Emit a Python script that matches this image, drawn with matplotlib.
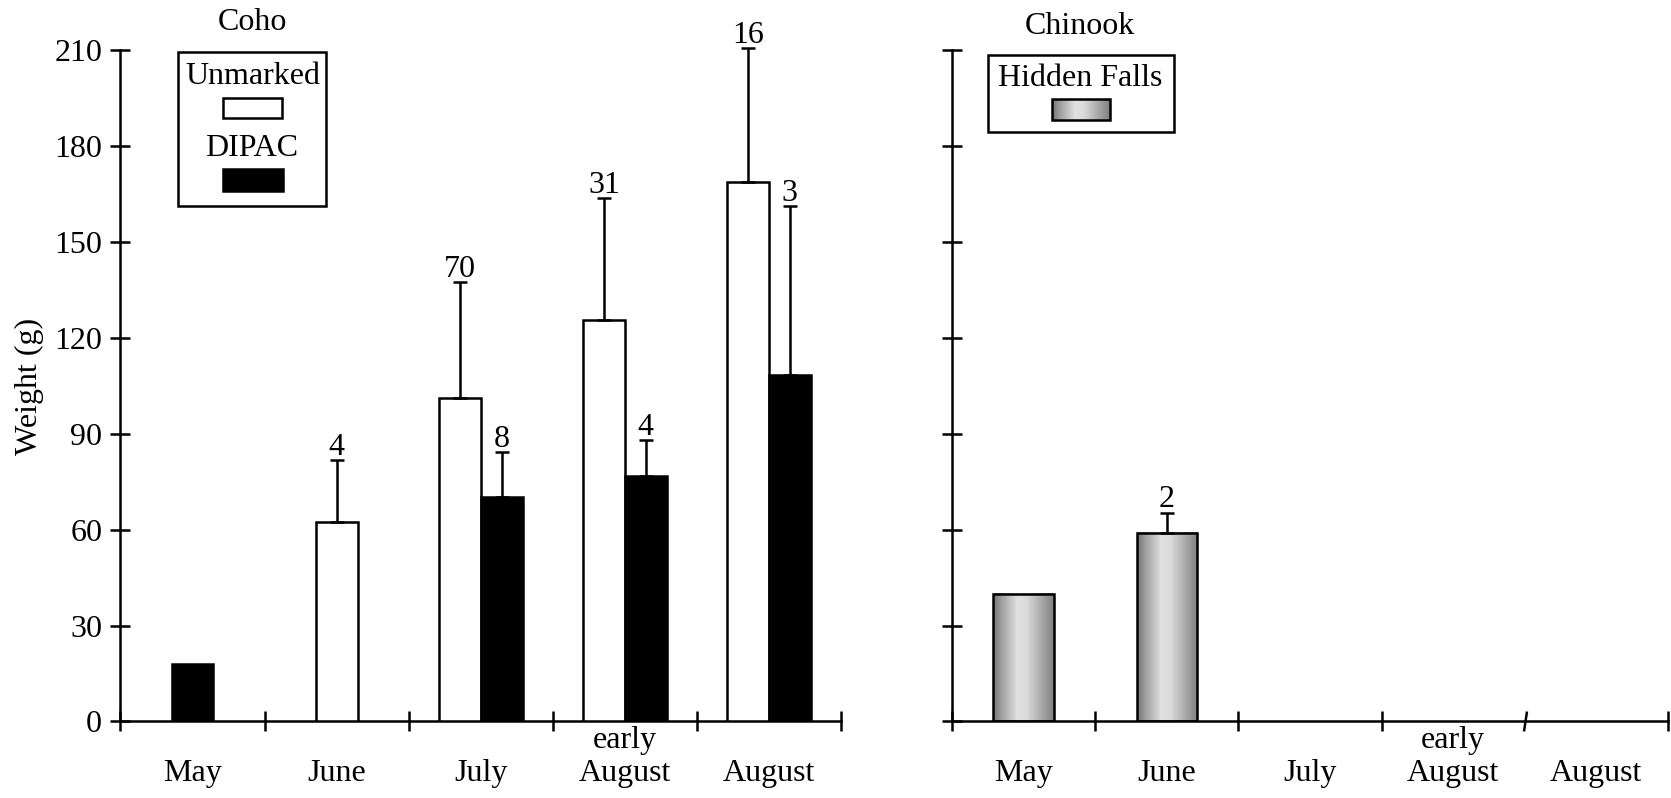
import numpy as np
import matplotlib
matplotlib.use('Agg')
import matplotlib.pyplot as plt
from matplotlib.patches import Rectangle

plt.rcParams['font.family'] = ['Liberation Serif', 'DejaVu Serif']
plt.rcParams['font.size'] = 23

# ---------------- data ----------------
months = ['May', 'June', 'July', 'early\nAugust', 'August']
coho_unmarked_mean = [np.nan, 62.5, 101.3, 125.5, 168.8]
coho_unmarked_sd = [np.nan, 19.3, 36.2, 38.1, 41.9]
coho_unmarked_n = [None, 4, 70, 31, 16]
coho_dipac_mean = [18.0, np.nan, 70.1, 76.9, 108.3]
coho_dipac_sd = [np.nan, np.nan, 14.2, 11.1, 52.9]
coho_dipac_n = [None, None, 8, 4, 3]
chinook_mean = [39.9, 58.8, np.nan, np.nan, np.nan]
chinook_sd = [np.nan, 6.5, np.nan, np.nan, np.nan]
chinook_n = [None, 2, None, None, None]
yticks = [0, 30, 60, 90, 120, 150, 180, 210]

# ---------------- style ----------------
W, H = 1671, 798
FS = 23
LW = 1.8
TICKLEN = 14.4
grad_stops_pos = [0.0, 0.12, 0.40, 0.55, 0.85, 1.0]
grad_stops_val = [0.45, 0.60, 0.88, 0.86, 0.62, 0.50]
grad = np.interp(np.linspace(0, 1, 256), grad_stops_pos, grad_stops_val)[None, :]

fig = plt.figure(figsize=(W / 100, H / 100), dpi=100)
ax1 = fig.add_axes([0.0721, 0.0959, 0.4312, 0.8414])
ax2 = fig.add_axes([0.5697, 0.0959, 0.4285, 0.8414])

centers = np.arange(len(months)) + 0.5


def style_axes(ax, ylabels=True):
    for s in ['top', 'right']:
        ax.spines[s].set_visible(False)
    for s in ['left', 'bottom']:
        ax.spines[s].set_linewidth(LW)
    ax.set_ylim(0, 210)
    ax.set_xlim(0, len(months))
    ax.set_yticks(yticks)
    if not ylabels:
        ax.set_yticklabels([])
    ax.set_xticks(centers, minor=True)
    ax.set_xticklabels([m if '\n' in m else '\n' + m for m in months], minor=True)
    ax.tick_params(which='major', direction='inout', length=TICKLEN, width=LW,
                   pad=6, labelsize=FS)
    ax.tick_params(axis='x', which='major', labelbottom=False)
    ax.tick_params(which='minor', length=0, pad=3, labelsize=FS)
    ax.set_facecolor('none')


def count_labels(ax, x, mean, sd, n):
    for xi, m, s, c in zip(x, mean, sd, n):
        if c is None:
            continue
        top = m + (s if not np.isnan(s) else 0)
        ax.annotate(str(c), (xi, top), xytext=(0, 3.8), textcoords='offset points',
                    ha='center', va='baseline', fontsize=FS, annotation_clip=False)


def errbars(ax, x, mean, sd):
    mean = np.asarray(mean, float)
    sd = np.asarray(sd, float)
    ok = ~np.isnan(sd) & ~np.isnan(mean)
    if ok.any():
        ax.errorbar(np.asarray(x)[ok], mean[ok], yerr=[np.zeros(ok.sum()), sd[ok]],
                    fmt='none', ecolor='black', elinewidth=LW, capsize=4.7,
                    capthick=LW, clip_on=False, zorder=4)


# ---------------- Coho ----------------
wc = 0.29
um = np.asarray(coho_unmarked_mean, float)
dm = np.asarray(coho_dipac_mean, float)
both = ~np.isnan(um) & ~np.isnan(dm)
xu = centers - np.where(both, wc / 2, 0)
xd = centers + np.where(both, wc / 2, 0)
ok_u = ~np.isnan(um)
ok_d = ~np.isnan(dm)
ax1.bar(xu[ok_u], um[ok_u], width=wc, color='white', edgecolor='black',
        linewidth=LW, zorder=3)
ax1.bar(xd[ok_d], dm[ok_d], width=wc, color='black', edgecolor='black',
        linewidth=LW, zorder=3)
errbars(ax1, xu, um, coho_unmarked_sd)
errbars(ax1, xd, dm, coho_dipac_sd)
count_labels(ax1, xu, um, coho_unmarked_sd, coho_unmarked_n)
count_labels(ax1, xd, dm, coho_dipac_sd, coho_dipac_n)
style_axes(ax1, True)

# ---------------- Chinook ----------------
wk = 0.42
cm = np.asarray(chinook_mean, float)
ok_c = ~np.isnan(cm)
bars = ax2.bar(centers[ok_c], cm[ok_c], width=wk, color='none',
               edgecolor='black', linewidth=LW, zorder=3)
for b in bars:
    x0, y0 = b.get_x(), b.get_y()
    ax2.imshow(grad, extent=[x0, x0 + b.get_width(), y0, y0 + b.get_height()],
               aspect='auto', cmap='gray', vmin=0, vmax=1, zorder=2,
               interpolation='bilinear')
errbars(ax2, centers, cm, chinook_sd)
count_labels(ax2, centers, cm, chinook_sd, chinook_n)
style_axes(ax2, False)
ax2.set_xticks([0, 1, 2, 3, 5])
ax2.tick_params(axis='x', which='major', labelbottom=False)
ax2.plot([4], [0], marker=[(-0.15, -1), (0.15, 1)], markersize=TICKLEN,
         markeredgewidth=LW, color='black', clip_on=False, zorder=5)

# ---------------- overlay: titles, y label, legends ----------------
ov = fig.add_axes([0, 0, 1, 1], zorder=10)
ov.set_xlim(0, W)
ov.set_ylim(H, 0)
ov.axis('off')
ov.text(252, 23, 'Coho', ha='center', va='center', fontsize=FS)
ov.text(1080, 26, 'Chinook', ha='center', va='center', fontsize=FS)
ov.text(29, 386, 'Weight (g)', ha='center', va='center', rotation=90, fontsize=FS)

ov.add_patch(Rectangle((178, 52), 148, 154, fill=False, lw=LW, ec='black'))
ov.text(253, 77, 'Unmarked', ha='center', va='center', fontsize=FS)
ov.add_patch(Rectangle((223, 98), 59, 20, fc='white', lw=LW, ec='black'))
ov.text(252, 148, 'DIPAC', ha='center', va='center', fontsize=FS)
ov.add_patch(Rectangle((223, 169), 60, 22, fc='black', lw=LW, ec='black'))

ov.add_patch(Rectangle((988, 55), 186, 77, fill=False, lw=LW, ec='black'))
ov.text(1080, 78, 'Hidden Falls', ha='center', va='center', fontsize=FS)
ov.imshow(grad, extent=[1052, 1110, 120, 99], aspect='auto', cmap='gray',
          vmin=0, vmax=1, interpolation='bilinear', zorder=2)
ov.add_patch(Rectangle((1052, 99), 58, 21, fill=False, lw=LW, ec='black', zorder=3))
ov.set_xlim(0, W)
ov.set_ylim(H, 0)

fig.savefig('out.png', dpi=100)
